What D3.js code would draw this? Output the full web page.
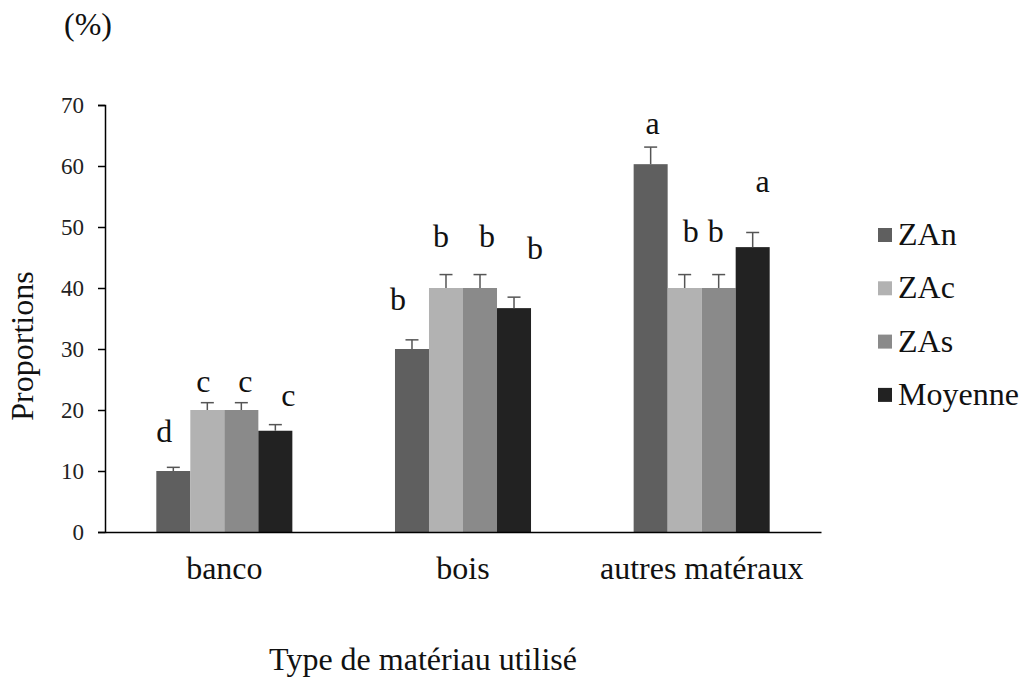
<!DOCTYPE html>
<html>
<head>
<meta charset="utf-8">
<script src="https://cdn.jsdelivr.net/npm/d3@7"></script>
<style>
  body { margin: 0; background: #fff; }
</style>
</head>
<body>
<div id="chart"></div>
<script>
// chart values
const categories = ["banco", "bois", "autres matéraux"];
const series = ["ZAn", "ZAc", "ZAs", "Moyenne"];
const colors = ["#5f5f5f", "#b2b2b2", "#8a8a8a", "#222222"];

// one row per category, one value per series
const values = [
  [10, 20, 20, 16.6],
  [30, 40, 40, 36.7],
  [60.3, 40, 40, 46.7]
];
const errors = [
  [0.6, 1.2, 1.2, 1.0],
  [1.5, 2.2, 2.2, 1.8],
  [2.8, 2.2, 2.2, 2.4]
];
const letters = [
  ["d", "c", "c", "c"],
  ["b", "b", "b", "b"],
  ["a", "b", "b", "a"]
];
const yTicks = [0, 10, 20, 30, 40, 50, 60, 70];

// hand-placed letter nudges [dx, dy] in px, like the original text boxes
const letterShift = [
  [[-9, -15], [-4, -1], [4, -1], [13, -9]],
  [[-14, -20], [-5, -18], [7, -18], [21, -28]],
  [[2, -3], [6, -23], [-3, -23], [10, -30]]
];

const serif = '"Liberation Serif", "Times New Roman", serif';

const width = 1031;
const height = 684;

const svg = d3.select("#chart")
  .append("svg")
  .attr("width", width)
  .attr("height", height);

const x = d3.scaleBand()
  .domain(categories)
  .range([105, 821])
  .paddingInner(0.43)
  .paddingOuter(0.215);

const xs = d3.scaleBand()
  .domain(series)
  .range([0, x.bandwidth()]);

const y = d3.scaleLinear()
  .domain([0, 70])
  .range([532, 105]);

const color = d3.scaleOrdinal().domain(series).range(colors);

// flatten into one record per bar
const bars = [];
categories.forEach((c, i) => {
  series.forEach((s, j) => {
    bars.push({
      cat: c, ser: s, value: values[i][j], err: errors[i][j],
      letter: letters[i][j], shift: letterShift[i][j]
    });
  });
});

const cx = d => x(d.cat) + xs(d.ser) + xs.bandwidth() / 2;

// bars
svg.append("g")
  .selectAll("rect")
  .data(bars)
  .join("rect")
  .attr("x", d => x(d.cat) + xs(d.ser))
  .attr("y", d => y(d.value))
  .attr("width", xs.bandwidth())
  .attr("height", d => y(0) - y(d.value))
  .attr("fill", d => color(d.ser));

// error bars (upper only)
const eb = svg.append("g")
  .attr("stroke", "#555")
  .attr("stroke-width", 1.5);

eb.selectAll("line.v")
  .data(bars)
  .join("line")
  .attr("class", "v")
  .attr("x1", cx)
  .attr("x2", cx)
  .attr("y1", d => y(d.value))
  .attr("y2", d => y(d.value + d.err));

eb.selectAll("line.cap")
  .data(bars)
  .join("line")
  .attr("class", "cap")
  .attr("x1", d => cx(d) - 6.5)
  .attr("x2", d => cx(d) + 6.5)
  .attr("y1", d => y(d.value + d.err))
  .attr("y2", d => y(d.value + d.err));

// significance letters
svg.append("g")
  .selectAll("text")
  .data(bars)
  .join("text")
  .attr("x", d => cx(d) + d.shift[0])
  .attr("y", d => y(d.value + d.err) - 10 + d.shift[1])
  .attr("text-anchor", "middle")
  .attr("fill", "#111")
  .style("font-family", serif)
  .style("font-size", "32px")
  .text(d => d.letter);

// y axis
const yAxis = svg.append("g")
  .attr("transform", "translate(105,0)")
  .call(d3.axisLeft(y).tickValues(yTicks).tickSize(7).tickPadding(14));
yAxis.select(".domain").attr("stroke", "#000").attr("stroke-width", 1.5);
yAxis.selectAll(".tick line").attr("stroke", "#000").attr("stroke-width", 1.5);
yAxis.selectAll(".tick text")
  .style("font-family", serif)
  .style("font-size", "23px")
  .attr("fill", "#222");

// x axis (line only, labels below)
const xAxis = svg.append("g")
  .attr("transform", "translate(0,532)")
  .call(d3.axisBottom(x).tickSize(0).tickPadding(24).tickSizeOuter(0));
xAxis.select(".domain").attr("stroke", "#000").attr("stroke-width", 1.5);
xAxis.selectAll(".tick text")
  .style("font-family", serif)
  .style("font-size", "32px")
  .attr("fill", "#111");

// axis titles
svg.append("text")
  .attr("x", 88)
  .attr("y", 35)
  .attr("text-anchor", "middle")
  .attr("fill", "#111")
  .style("font-family", serif)
  .style("font-size", "32px")
  .text("(%)");

svg.append("text")
  .attr("transform", "translate(33,346) rotate(-90)")
  .attr("text-anchor", "middle")
  .attr("fill", "#111")
  .style("font-family", serif)
  .style("font-size", "32px")
  .text("Proportions");

svg.append("text")
  .attr("x", 423)
  .attr("y", 670)
  .attr("text-anchor", "middle")
  .attr("fill", "#111")
  .style("font-family", serif)
  .style("font-size", "32px")
  .text("Type de matériau utilisé");

// legend
const legend = svg.append("g")
  .selectAll("g")
  .data(series)
  .join("g")
  .attr("transform", (d, i) => `translate(878,${245 + i * 53.3})`);

legend.append("rect")
  .attr("x", 0)
  .attr("y", -17)
  .attr("width", 14)
  .attr("height", 14)
  .attr("fill", d => color(d));

legend.append("text")
  .attr("x", 20)
  .attr("y", 0)
  .attr("fill", "#111")
  .style("font-family", serif)
  .style("font-size", "32px")
  .text(d => d);
</script>
</body>
</html>
